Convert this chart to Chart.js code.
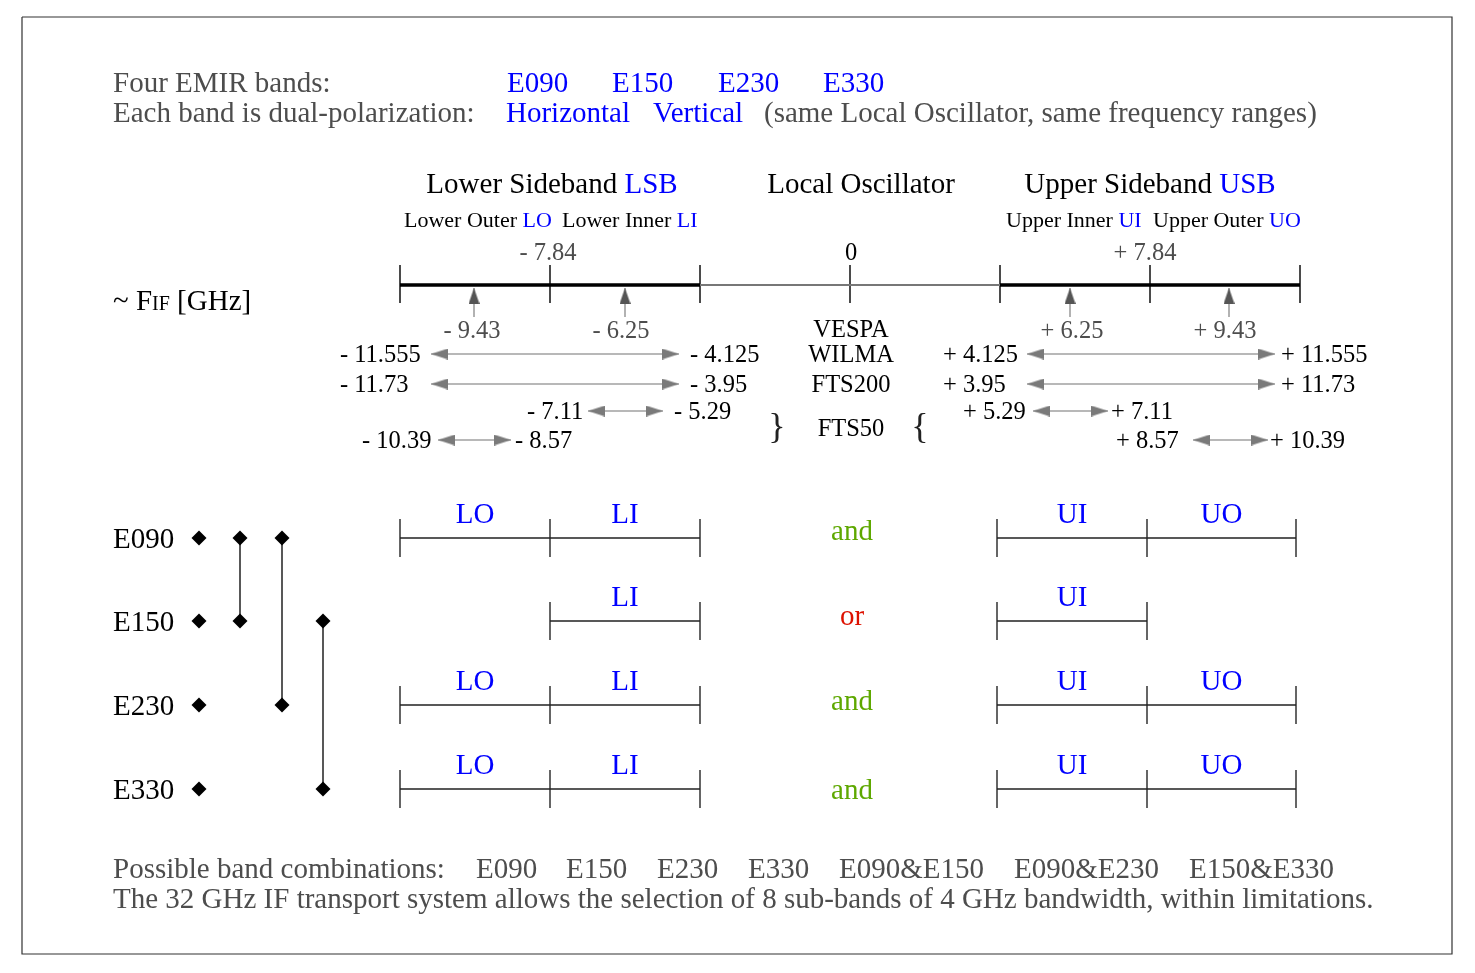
<!DOCTYPE html>
<html>
<head>
<meta charset="utf-8">
<title>EMIR bands and IF sub-bands</title>
<script src="https://cdn.jsdelivr.net/npm/chart.js@4.4.1/dist/chart.umd.min.js"></script>
<style>
  html, body { margin: 0; padding: 0; background: #fff; }
  #wrap { width: 1475px; height: 973px; }
</style>
</head>
<body>
<div id="wrap"><canvas id="emirChart"></canvas></div>
<script>
// DATA
let bands = ['E090', 'E150', 'E230', 'E330'];
let polarizations = ['Horizontal', 'Vertical'];
let subBands = ['LO', 'LI', 'UI', 'UO'];
let subBandNames = ['Lower Outer', 'Lower Inner', 'Upper Inner', 'Upper Outer'];
let subBandCentres = [-9.43, -6.25, 6.25, 9.43];       // GHz
let sidebandCentres = [-7.84, 0, 7.84];                // GHz
let backends = ['VESPA', 'WILMA', 'FTS200', 'FTS50'];
let rangeInner = [4.125, 3.95, 5.29, 8.57];            // GHz, mirrored in LSB
let rangeOuter = [11.555, 11.73, 7.11, 10.39];
let bandSubBands = [['LO', 'LI', 'UI', 'UO'], ['LI', 'UI'], ['LO', 'LI', 'UI', 'UO'], ['LO', 'LI', 'UI', 'UO']];
let bandJoin = ['and', 'or', 'and', 'and'];
let bandPairs = [['E090', 'E150'], ['E090', 'E230'], ['E150', 'E330']];
let combinations = ['E090', 'E150', 'E230', 'E330', 'E090&E150', 'E090&E230', 'E150&E330'];

// LAYOUT (drawing units, same size as the page)
let fontFam = '"Liberation Serif", "Times New Roman", serif';
let BLACK = '#000', GRAY = '#4d4d4d', BLUE = '#0000ff', GREEN = '#5ea800', RED = '#dd1100';
let axisY = 285;
let axisTickX = [400, 550, 700, 850, 1000, 1150, 1300];
let centreArrowX = [474, 625, 1070, 1229];
let centreLabelX = [472, 621, 1072, 1225];
let sidebandLabelX = [548, 851, 1145];
let rangeRowY = [354, 384, 411, 440];
let lsbArrow = [[431, 679], [431, 679], [588, 663], [438, 511]];
let usbArrow = [[1027, 1275], [1027, 1275], [1033, 1108], [1193, 1268]];
let lsbLeftX = [340, 340, 527, 362], lsbRightX = [690, 690, 674, 515];
let usbLeftX = [943, 943, 963, 1116], usbRightX = [1281, 1281, 1111, 1270];
let backendY = [329, 354, 384, 428];
let rowY = [538, 621, 705, 789];
let rowSlot = { LO: [400, 550], LI: [550, 700], UI: [997, 1147], UO: [1147, 1296] };
let joinY = [530, 615, 700, 789];
let pairColX = [240, 282, 323];
let comboX = [476, 566, 657, 748, 839, 1014, 1189];

function fmt(v) { return v === 0 ? '0' : (v < 0 ? '- ' : '+ ') + Math.abs(v); }

function makeHead(len, wid, color) {
  let c = document.createElement('canvas');
  c.width = len * 2; c.height = wid;
  let g = c.getContext('2d');
  g.fillStyle = color;
  g.beginPath(); g.moveTo(0, 0); g.lineTo(len, wid / 2); g.lineTo(0, wid); g.closePath(); g.fill();
  return c;
}
let upHead = makeHead(16, 11, '#555');
let rangeHead = makeHead(17, 11, '#7a7a7a');

function seg(points, color, width, extra) {
  return Object.assign({
    data: points, showLine: true, borderColor: color, backgroundColor: color,
    borderWidth: width, pointRadius: 0, fill: false, clip: false, spanGaps: false
  }, extra || {});
}
let GAP = { x: null, y: null };

// datasets
let datasets = [];
datasets.push(seg([{x: 22, y: 17}, {x: 1452, y: 17}, {x: 1452, y: 954}, {x: 22, y: 954}, {x: 22, y: 17}], '#333', 1.2));
datasets.push(seg([{x: 700, y: axisY}, {x: 1000, y: axisY}], '#777', 2));
datasets.push(seg([{x: 400, y: axisY}, {x: 700, y: axisY}, GAP, {x: 1000, y: axisY}, {x: 1300, y: axisY}], BLACK, 3.5));
let tickPts = [];
axisTickX.forEach(function (x) { tickPts.push({x: x, y: 265}, {x: x, y: 303}, GAP); });
datasets.push(seg(tickPts, '#111', 1.5));
centreArrowX.forEach(function (x) {
  datasets.push(seg([{x: x, y: 317}, {x: x, y: 288}], '#999', 1.5,
    { pointRadius: [0, 5], pointStyle: upHead, pointRotation: -90 }));
});
rangeRowY.forEach(function (y, i) {
  [lsbArrow[i], usbArrow[i]].forEach(function (a) {
    datasets.push(seg([{x: a[0], y: y}, {x: a[1], y: y}], '#a0a0a0', 1.5,
      { pointRadius: 5, pointStyle: rangeHead, pointRotation: [180, 0] }));
  });
});
bands.forEach(function (b, i) {
  let y = rowY[i], lines = [], ticks = [];
  bandSubBands[i].forEach(function (s) {
    let e = rowSlot[s];
    lines.push({x: e[0], y: y}, {x: e[1], y: y}, GAP);
    ticks.push({x: e[0], y: y - 19}, {x: e[0], y: y + 19}, GAP, {x: e[1], y: y - 19}, {x: e[1], y: y + 19}, GAP);
  });
  datasets.push(seg(lines, '#222', 1.5));
  datasets.push(seg(ticks, '#555', 1.8));
});
bandPairs.forEach(function (p, k) {
  let y1 = rowY[bands.indexOf(p[0])], y2 = rowY[bands.indexOf(p[1])];
  datasets.push(seg([{x: pairColX[k], y: y1}, {x: pairColX[k], y: y2}], '#222', 1.5,
    { pointRadius: 7.5, pointStyle: 'rectRot', pointBackgroundColor: BLACK, pointBorderColor: BLACK, pointBorderWidth: 0 }));
});
datasets.push({
  data: bands.map(function (b, i) { return {x: 199, y: rowY[i]}; }),
  showLine: false, pointRadius: 7.5, pointStyle: 'rectRot', clip: false,
  pointBackgroundColor: BLACK, pointBorderColor: BLACK, pointBorderWidth: 0
});

// text
let labels = [];
function T(x, y, size, parts, align) { labels.push({x: x, y: y, size: size, parts: parts, align: align || 'left'}); }
T(113, 82, 29, [['Four EMIR bands:', GRAY]]);
[507, 612, 718, 823].forEach(function (x, i) { T(x, 82, 29, [[bands[i], BLUE]]); });
T(113, 112, 29, [['Each band is dual-polarization:', GRAY]]);
[506, 653].forEach(function (x, i) { T(x, 112, 29, [[polarizations[i], BLUE]]); });
T(764, 112, 29, [['(same Local Oscillator, same frequency ranges)', GRAY]]);

T(552, 183, 29, [['Lower Sideband ', BLACK], ['LSB', BLUE]], 'center');
T(861, 183, 29, [['Local Oscillator', BLACK]], 'center');
T(1150, 183, 29, [['Upper Sideband ', BLACK], ['USB', BLUE]], 'center');
[404, 562, 1006, 1153].forEach(function (x, i) { T(x, 220, 22, [[subBandNames[i] + ' ', BLACK], [subBands[i], BLUE]]); });
sidebandCentres.forEach(function (v, i) { T(sidebandLabelX[i], 252, 24.5, [[fmt(v), v === 0 ? BLACK : GRAY]], 'center'); });
T(113, 300, 29, [['~ F', BLACK], ['IF', BLACK, 20], [' [GHz]', BLACK]]);
subBandCentres.forEach(function (v, i) { T(centreLabelX[i], 330, 24.5, [[fmt(v), GRAY]], 'center'); });

backends.forEach(function (b, i) { T(851, backendY[i], 24.5, [[b, BLACK]], 'center'); });
T(777, 426, 36, [['}', '#222']], 'center');
T(920, 426, 36, [['{', '#222']], 'center');
rangeRowY.forEach(function (y, i) {
  T(lsbLeftX[i], y, 24.5, [[fmt(-rangeOuter[i]), BLACK]]);
  T(lsbRightX[i], y, 24.5, [[fmt(-rangeInner[i]), BLACK]]);
  T(usbLeftX[i], y, 24.5, [[fmt(rangeInner[i]), BLACK]]);
  T(usbRightX[i], y, 24.5, [[fmt(rangeOuter[i]), BLACK]]);
});

bands.forEach(function (b, i) {
  T(113, rowY[i], 29, [[b, BLACK]]);
  bandSubBands[i].forEach(function (s) {
    let e = rowSlot[s];
    T((e[0] + e[1]) / 2, rowY[i] - 25, 29, [[s, BLUE]], 'center');
  });
  T(852, joinY[i], 29, [[bandJoin[i], bandJoin[i] === 'or' ? RED : GREEN]], 'center');
});

T(113, 868, 29, [['Possible band combinations:', GRAY]]);
combinations.forEach(function (c, i) { T(comboX[i], 868, 29, [[c, GRAY]]); });
T(113, 898, 29, [['The 32 GHz IF transport system allows the selection of 8 sub-bands of 4 GHz bandwidth, within limitations.', GRAY]]);

let textPlugin = {
  id: 'diagramText',
  afterDatasetsDraw: function (chart) {
    let ctx = chart.ctx, sx = chart.scales.x, sy = chart.scales.y;
    ctx.save();
    ctx.textBaseline = 'alphabetic';
    ctx.textAlign = 'left';
    labels.forEach(function (t) {
      let widths = t.parts.map(function (p) {
        ctx.font = (p[2] || t.size) + 'px ' + fontFam;
        return ctx.measureText(p[0]).width;
      });
      let total = widths.reduce(function (a, b) { return a + b; }, 0);
      let x = sx.getPixelForValue(t.x);
      if (t.align === 'center') x -= total / 2;
      else if (t.align === 'right') x -= total;
      let y = sy.getPixelForValue(t.y) + 0.33 * t.size;
      t.parts.forEach(function (p, i) {
        ctx.font = (p[2] || t.size) + 'px ' + fontFam;
        ctx.fillStyle = p[1];
        ctx.fillText(p[0], x, y);
        x += widths[i];
      });
    });
    ctx.restore();
  }
};

let emirCtx = document.getElementById('emirChart').getContext('2d');
let emirChart = new Chart(emirCtx, {
  type: 'scatter',
  data: { datasets: datasets },
  options: {
    responsive: true,
    maintainAspectRatio: false,
    animation: false,
    events: [],
    layout: { padding: 0, autoPadding: false },
    plugins: { legend: { display: false }, tooltip: { enabled: false } },
    elements: { line: { tension: 0 } },
    scales: {
      x: { type: 'linear', min: 0, max: 1475, display: false },
      y: { type: 'linear', min: 0, max: 973, reverse: true, display: false }
    }
  },
  plugins: [textPlugin]
});
</script>
</body>
</html>
